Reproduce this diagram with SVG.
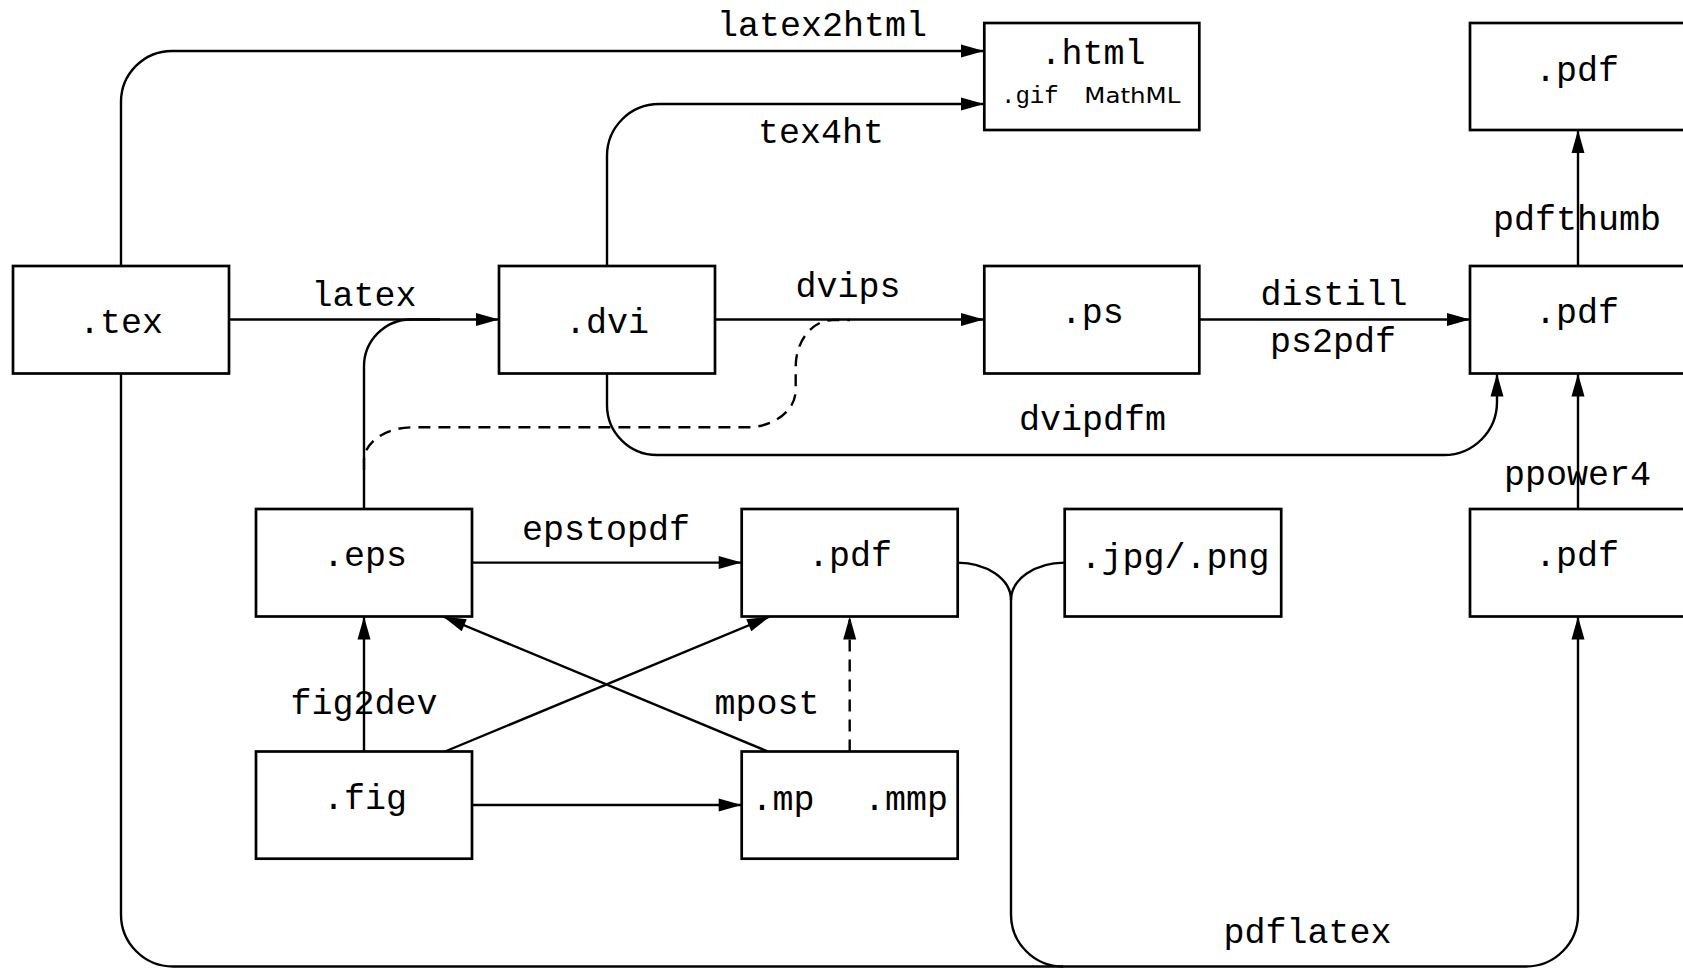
<svg xmlns="http://www.w3.org/2000/svg" width="1683" height="968" viewBox="0 0 1683 968">
<style>
.box{fill:#fff;stroke:#000;stroke-width:2.7}
.ln{fill:none;stroke:#000;stroke-width:2.4}
.dash{stroke-dasharray:12 8}
.t{font-family:"Liberation Mono","DejaVu Sans Mono",monospace;font-size:35px;text-anchor:middle;fill:#000}
.s{font-family:"DejaVu Sans","Liberation Sans",sans-serif;font-size:22px;fill:#000}
.sm{font-family:"Liberation Mono","DejaVu Sans Mono",monospace;font-size:24px;fill:#000}
</style>
<defs>
<marker id="ah" markerUnits="userSpaceOnUse" markerWidth="24" markerHeight="14" refX="23" refY="6.5" orient="auto" overflow="visible">
<path d="M0,0 L23,6.5 L0,13 z" fill="#000" stroke="none"/>
</marker>
</defs>
<rect width="1683" height="968" fill="#fff"/>
<g id="connectors">
<path class="ln" d="M121,266 V102 A51,51 0 0 1 172,51 H984" marker-end="url(#ah)"/>
<path class="ln" d="M607,266 V156 A52,52 0 0 1 659,104 H984" marker-end="url(#ah)"/>
<path class="ln" d="M229,319.5 H499" marker-end="url(#ah)"/>
<path class="ln" d="M364,509 V367 A47,47 0 0 1 411,319.5 H440"/>
<path class="ln" d="M715,319.5 H984" marker-end="url(#ah)"/>
<path class="ln dash" d="M364,470 V460.3 C364,442.1 386,427.3 413,427.3 H746.7 C773.8,427.3 795.7,410.6 795.7,390 V366.7 C795.7,340.9 812.4,320 833,320 H850"/>
<path class="ln" d="M607,373.5 V405 A50,50 0 0 0 657,455 H1444 A53,53 0 0 0 1497,402 V373.5" marker-end="url(#ah)"/>
<path class="ln" d="M1199.3,319.5 H1470" marker-end="url(#ah)"/>
<path class="ln" d="M1578,266 V130" marker-end="url(#ah)"/>
<path class="ln" d="M1578,509 V373.5" marker-end="url(#ah)"/>
<path class="ln" d="M121,373.5 V914.5 A52,52 0 0 0 173,966.5 H1526 A52,52 0 0 0 1578,914.5 V616.5" marker-end="url(#ah)"/>
<path class="ln" d="M957.3,562.6 C987.1,562.6 1011,579.4 1011,600 V914.5 A52,52 0 0 0 1063,966.5"/>
<path class="ln" d="M1064.7,562.6 C1035,562.6 1011,579.4 1011,600"/>
<path class="ln" d="M472,562.6 H741.7" marker-end="url(#ah)"/>
<path class="ln" d="M364,751.5 V616.5" marker-end="url(#ah)"/>
<path class="ln" d="M445,751.5 L770,616.5" marker-end="url(#ah)"/>
<path class="ln" d="M768,751.5 L443,616.5" marker-end="url(#ah)"/>
<path class="ln dash" d="M849.7,751.5 V616.5" marker-end="url(#ah)"/>
<path class="ln" d="M472,805 H741.7" marker-end="url(#ah)"/>
<text class="t" x="822" y="36">latex2html</text>
<text class="t" x="821" y="143">tex4ht</text>
<text class="t" x="364" y="306">latex</text>
<text class="t" x="848" y="297">dvips</text>
<text class="t" x="1334" y="305">distill</text>
<text class="t" x="1333" y="352">ps2pdf</text>
<text class="t" x="1092.5" y="430">dvipdfm</text>
<text class="t" x="1577" y="230">pdfthumb</text>
<text class="t" x="1577.5" y="485">ppower4</text>
<text class="t" x="606" y="539.5">epstopdf</text>
<text class="t" x="364" y="714">fig2dev</text>
<text class="t" x="767" y="714">mpost</text>
<text class="t" x="1307.6" y="942.5">pdflatex</text>
</g>
<g id="n-tex"><rect class="box" x="13" y="266" width="216" height="107.5"/><text class="t" x="121" y="333">.tex</text></g>
<g id="n-dvi"><rect class="box" x="499" y="266" width="216" height="107.5"/><text class="t" x="607" y="333">.dvi</text></g>
<g id="n-ps"><rect class="box" x="984.3" y="266" width="215" height="107.5"/><text class="t" x="1092.3" y="323">.ps</text></g>
<g id="n-pdf-main"><rect class="box" x="1470" y="266" width="216" height="107.5"/><text class="t" x="1577" y="323">.pdf</text></g>
<g id="n-pdf-top"><rect class="box" x="1470" y="23" width="216" height="107"/><text class="t" x="1577" y="81">.pdf</text></g>
<g id="n-html"><rect class="box" x="984.3" y="23" width="215" height="107"/><text class="t" x="1093" y="64.3">.html</text><text class="sm" x="1001" y="103.3">.gif</text><text class="s" x="1084.3" y="103.3" textLength="96" lengthAdjust="spacingAndGlyphs">MathML</text></g>
<g id="n-eps"><rect class="box" x="256" y="509" width="216" height="107.5"/><text class="t" x="365" y="566.4">.eps</text></g>
<g id="n-pdf-eps"><rect class="box" x="741.7" y="509" width="216" height="107.5"/><text class="t" x="850" y="566.4">.pdf</text></g>
<g id="n-jpg"><rect class="box" x="1064.7" y="509" width="216.5" height="107.5"/><text class="t" x="1175" y="568">.jpg/.png</text></g>
<g id="n-pdf-ppower"><rect class="box" x="1470" y="509" width="216" height="107.5"/><text class="t" x="1577" y="566.4">.pdf</text></g>
<g id="n-fig"><rect class="box" x="256" y="751.5" width="216" height="107.2"/><text class="t" x="365" y="809">.fig</text></g>
<g id="n-mp"><rect class="box" x="741.7" y="751.5" width="216" height="107.2"/><text class="t" x="783" y="809.5">.mp</text><text class="t" x="906" y="809.5">.mmp</text></g>
</svg>
